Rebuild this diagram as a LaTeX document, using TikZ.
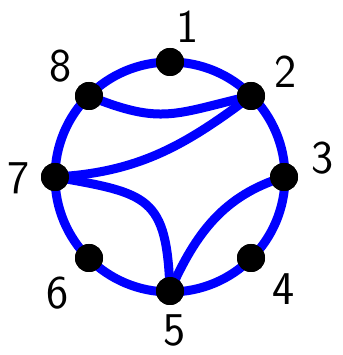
\documentclass[tikz,border=0pt]{standalone}
\begin{document}
\begin{tikzpicture}[x=1pt,y=1pt,
  vtx/.style={circle,fill=black,inner sep=0pt,minimum size=28pt},
  lbl/.style={font=\sffamily\fontsize{47}{47}\selectfont,inner sep=0pt},
  edge/.style={blue,line width=9pt}]
\useasboundingbox (0,0) rectangle (342,355);
\coordinate (c) at (170,178);
\draw[edge] (c) circle (115);
\node[vtx] (v1) at (170,293) {};
\node[vtx] (v2) at (251,259) {};
\node[vtx] (v3) at (284,178) {};
\node[vtx] (v4) at (251,97) {};
\node[vtx] (v5) at (170,64) {};
\node[vtx] (v6) at (89,97) {};
\node[vtx] (v7) at (55,178) {};
\node[vtx] (v8) at (89,259) {};
\draw[edge] (v8.center) to[out=-22,in=193,looseness=1.25] (v2.center);
\draw[edge] (v2.center) to[out=217,in=3] (v7.center);
\draw[edge] (v7.center) to[out=-10,in=92,looseness=1.5] (v5.center);
\draw[edge] (v3.center) to[out=197,in=66] (v5.center);
\foreach \i in {1,...,8} \node[vtx] at (v\i) {};
\node[lbl] (l1) at (188,328) {1};
\node[lbl] (l2) at (286,283) {2};
\node[lbl] (l3) at (323,197) {3};
\node[lbl] (l4) at (284,66) {4};
\node[lbl] (l5) at (175,25) {5};
\node[lbl] (l6) at (58,62) {6};
\node[lbl] (l7) at (19,177) {7};
\node[lbl] (l8) at (61,289) {8};
\end{tikzpicture}
\end{document}
